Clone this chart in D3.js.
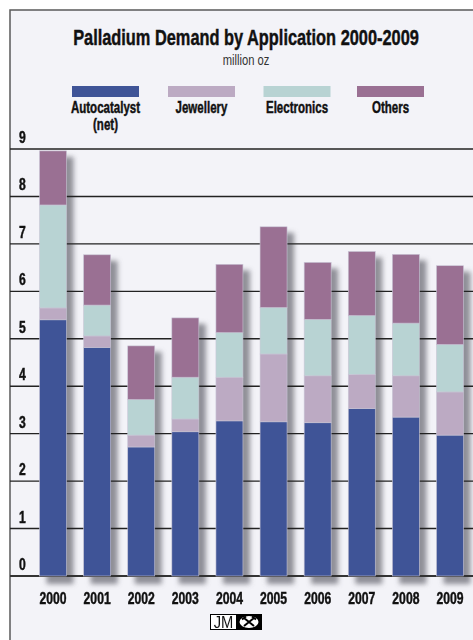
<!DOCTYPE html>
<html>
<head>
<meta charset="utf-8">
<script src="https://cdn.jsdelivr.net/npm/d3@7"></script>
<style>
  body { margin: 0; background: #ffffff; }
  svg { display: block; }
  text { font-family: "Liberation Sans", Arial, sans-serif; fill: #111; }
</style>
</head>
<body>
<div id="chart"></div>
<script>
// chart values (million oz)
const years = ["2000", "2001", "2002", "2003", "2004", "2005", "2006", "2007", "2008", "2009"];
const autocatalyst = [5.40, 4.82, 2.72, 3.04, 3.27, 3.25, 3.23, 3.53, 3.35, 2.97];
const jewellery = [0.25, 0.24, 0.25, 0.27, 0.92, 1.43, 0.99, 0.72, 0.87, 0.91];
const electronics = [2.17, 0.65, 0.75, 0.88, 0.94, 0.98, 1.19, 1.24, 1.11, 1.00];
const others = [1.14, 1.06, 1.13, 1.25, 1.44, 1.70, 1.20, 1.35, 1.45, 1.66];
const seriesNames = ["Autocatalyst", "Jewellery", "Electronics", "Others"];
const seriesColors = ["#3f5497", "#bcaac3", "#b8d3d3", "#9a7093"];
const yTicks = [0, 1, 2, 3, 4, 5, 6, 7, 8, 9];

const FRAME_WIDTH = 473;
const FRAME_HEIGHT = 640;
const CONDENSE = 0.74;   // the original uses a condensed face, so squeeze Liberation Sans

// build rows for d3.stack
const rows = years.map((y, i) => ({
  year: y,
  Autocatalyst: autocatalyst[i],
  Jewellery: jewellery[i],
  Electronics: electronics[i],
  Others: others[i]
}));
const stacked = d3.stack().keys(seriesNames)(rows);
const totals = rows.map(d => d.Autocatalyst + d.Jewellery + d.Electronics + d.Others);

const svg = d3.select("#chart")
  .append("svg")
  .attr("width", FRAME_WIDTH)
  .attr("height", FRAME_HEIGHT);

// condensed text helper (bold text gets a hairline stroke to look heavier)
function label(parent, x, y, str, size, opts) {
  opts = opts || {};
  const weight = opts.weight || "bold";
  const t = parent.append("text")
    .attr("transform", "translate(" + x + "," + y + ") scale(" + (opts.scale || CONDENSE) + ",1)")
    .attr("text-anchor", opts.anchor || "middle")
    .attr("font-size", size + "px")
    .attr("font-weight", weight)
    .text(str);
  if (weight === "bold") t.style("stroke", "#111").style("stroke-width", 0.45);
  if (opts.color) t.style("fill", opts.color);
  return t;
}

// blur for the bar shadows
const defs = svg.append("defs");
defs.append("filter")
  .attr("id", "blur")
  .attr("x", "-50%").attr("y", "-10%")
  .attr("width", "200%").attr("height", "120%")
  .append("feGaussianBlur")
  .attr("stdDeviation", 2.6);

// panel background and frame
svg.append("rect")
  .attr("x", 10).attr("y", 10)
  .attr("width", FRAME_WIDTH + 10).attr("height", FRAME_HEIGHT + 10)
  .attr("fill", "#f3f3f8")
  .attr("stroke", "#5a5a5a")
  .attr("stroke-width", 1.5);

const X_SCALE = d3.scaleBand()
  .domain(years)
  .range([30.7, 472.3])
  .paddingInner(0.388)
  .paddingOuter(0.2);

const Y_SCALE = d3.scaleLinear()
  .domain([0, 9])
  .range([576, 149]);

// title, fitted to the width it has in the original
const title = label(svg, 246, 45, "Palladium Demand by Application 2000-2009", 22, {scale: 1});
const tw = title.node().getComputedTextLength();
title.attr("transform", "translate(246,45) scale(" + (346 / tw) + ",1)");

label(svg, 246, 65, "million oz", 14, {weight: "normal", scale: 0.8, color: "#333"});

// legend
const legendX = [105.5, 201.5, 297, 390.5];
const legendLabels = [["Autocatalyst", "(net)"], ["Jewellery"], ["Electronics"], ["Others"]];
const legend = svg.append("g");
seriesNames.forEach((name, i) => {
  legend.append("rect")
    .attr("x", legendX[i] - 33.5).attr("y", 86)
    .attr("width", 67).attr("height", 11)
    .attr("fill", seriesColors[i]);
  legendLabels[i].forEach((line, j) => {
    label(legend, legendX[i], 113 + j * 17, line, 16, {scale: 0.72});
  });
});

// shadows
svg.append("g")
  .attr("filter", "url(#blur)")
  .selectAll("rect")
  .data(rows)
  .enter()
  .append("rect")
  .attr("x", d => X_SCALE(d.year) + 7)
  .attr("y", (d, i) => Y_SCALE(totals[i]) + 6)
  .attr("width", X_SCALE.bandwidth())
  .attr("height", (d, i) => Y_SCALE(0) - Y_SCALE(totals[i]) + 2)
  .attr("fill", "#76767e")
  .attr("opacity", 0.8);

// gridlines
svg.append("g")
  .selectAll("line")
  .data(yTicks)
  .enter()
  .append("line")
  .attr("x1", 10).attr("x2", FRAME_WIDTH)
  .attr("y1", d => Y_SCALE(d)).attr("y2", d => Y_SCALE(d))
  .attr("stroke", d => d === 0 ? "#333" : "#222")
  .attr("stroke-width", d => d === 0 ? 2 : 1.4);

// y tick labels, sitting just above each gridline
const yLabels = svg.append("g");
yTicks.forEach(v => label(yLabels, 19, Y_SCALE(v) - 6, v, 16, {anchor: "start", scale: 0.76}));

// stacked bars
svg.append("g")
  .selectAll("g")
  .data(stacked)
  .enter()
  .append("g")
  .attr("fill", (d, i) => seriesColors[i])
  .selectAll("rect")
  .data(d => d)
  .enter()
  .append("rect")
  .attr("x", d => X_SCALE(d.data.year))
  .attr("y", d => Y_SCALE(d[1]))
  .attr("width", X_SCALE.bandwidth())
  .attr("height", d => Y_SCALE(d[0]) - Y_SCALE(d[1]))
  .attr("stroke", "#c9c6d6")
  .attr("stroke-width", 0.6);

// x axis labels
const xLabels = svg.append("g");
years.forEach(y => label(xLabels, X_SCALE(y) + X_SCALE.bandwidth() / 2, 604, y, 16, {scale: 0.76}));

// JM logo
const logo = svg.append("g").attr("transform", "translate(210,614)");
logo.append("rect")
  .attr("width", 52).attr("height", 16)
  .attr("fill", "#000");
logo.append("rect")
  .attr("x", 1).attr("y", 1)
  .attr("width", 25).attr("height", 14)
  .attr("fill", "#fff");
label(logo, 13.5, 13.5, "JM", 16, {weight: "normal", scale: 0.92});
logo.append("ellipse")
  .attr("cx", 39).attr("cy", 8)
  .attr("rx", 9.5).attr("ry", 6)
  .attr("fill", "#fff");
logo.append("path")
  .attr("d", "M34,4 L44,12 M44,4 L34,12 M32,5.5 L36,2.5 M46,5.5 L42,2.5")
  .attr("stroke", "#000")
  .attr("stroke-width", 2)
  .attr("fill", "none");
</script>
</body>
</html>
